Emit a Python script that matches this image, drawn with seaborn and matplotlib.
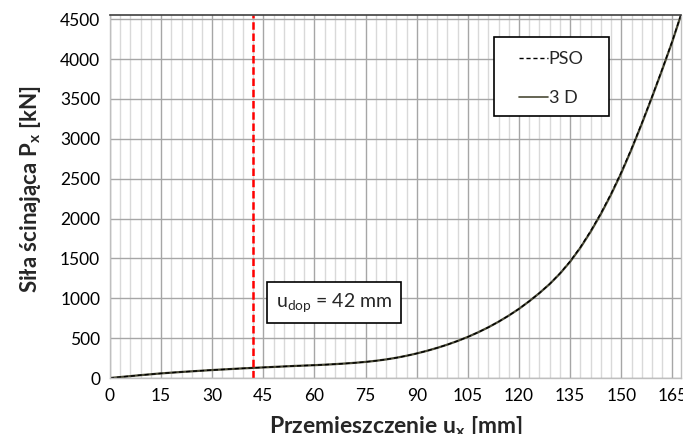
import numpy as np
import pandas as pd
import matplotlib
matplotlib.use("Agg")
import matplotlib.pyplot as plt
from matplotlib.lines import Line2D
from matplotlib.patches import Rectangle
import seaborn as sns

# Displacement [mm]
displacement = [0, 3, 6, 9, 12, 15, 18, 21, 24, 27, 30, 33, 36, 39, 42, 45,
                48, 51, 54, 57, 60, 63, 66, 69, 72, 75, 78, 81, 84, 87, 90,
                93, 96, 99, 102, 105, 108, 111, 114, 117, 120, 123, 126, 129,
                132, 135, 138, 141, 144, 147, 150, 153, 156, 159, 162, 165,
                167.5]
# Shear force [kN] - 3D model
force_3d = [0, 12, 24, 36, 47, 58, 67, 76, 84, 92, 100, 107, 114, 121, 127,
            133, 139, 145, 151, 156, 161, 167, 174, 182, 191, 202, 216, 233,
            254, 279, 308, 341, 378, 419, 465, 516, 573, 636, 706, 783, 868,
            963, 1066, 1179, 1309, 1459, 1634, 1834, 2056, 2301, 2571, 2868,
            3186, 3520, 3866, 4224, 4550]
# Shear force [kN] - PSO model
force_pso = [0, 12, 24, 36, 47, 58, 67, 76, 84, 92, 100, 107, 114, 121, 127,
             133, 139, 145, 151, 156, 161, 167, 174, 182, 191, 202, 216, 233,
             254, 279, 308, 341, 378, 419, 465, 516, 573, 636, 706, 783, 868,
             963, 1066, 1180, 1312, 1464, 1641, 1843, 2066, 2312, 2582, 2878,
             3195, 3528, 3873, 4230, 4556]

u_dop = 42
x_ticks = list(range(0, 166, 15))
y_ticks = list(range(0, 4501, 500))

sns.set_style("white")
plt.rcParams["font.family"] = ["Lato", "DejaVu Sans"]
plt.rcParams["mathtext.fontset"] = "custom"
plt.rcParams["mathtext.rm"] = "Lato"
plt.rcParams["mathtext.it"] = "Lato:italic"
plt.rcParams["mathtext.bf"] = "Lato:bold"

df = pd.DataFrame({"u": displacement, "P3D": force_3d, "PPSO": force_pso})

fig = plt.figure(figsize=(6.83, 4.34), dpi=100)
ax = fig.add_axes([0.161, 0.129, 0.836, 0.836])

# grid: fine vertical lines every 3 mm, stronger every 15 mm
ax.set_xticks(np.arange(0, 168, 3), minor=True)
ax.grid(which="minor", axis="x", color="#d9d9d9", linewidth=1.0)
ax.grid(which="major", axis="x", color="#a6a6a6", linewidth=1.0)
ax.grid(which="major", axis="y", color="#a6a6a6", linewidth=1.0)
ax.set_axisbelow(True)

sns.lineplot(data=df, x="u", y="P3D", ax=ax, color="#4a4a36", linewidth=1.6)
sns.lineplot(data=df, x="u", y="PPSO", ax=ax, color="black", linewidth=1.0,
             linestyle=(0, (3, 2)))

ax.axvline(u_dop, color="#ff0000", linewidth=1.8, linestyle=(0, (3, 1.5)))

ax.set_xlim(0, 167.5)
ax.set_ylim(0, 4550)
ax.set_xticks(x_ticks)
ax.set_yticks(y_ticks)
ax.tick_params(axis="both", which="both", length=0, labelsize=12.5,
               labelcolor="black", pad=7)

for side in ["left", "bottom", "right"]:
    ax.spines[side].set_color("#bfbfbf")
    ax.spines[side].set_linewidth(1.0)
ax.spines["top"].set_color("#404040")
ax.spines["top"].set_linewidth(1.2)

ax.set_xlabel(r"Przemieszczenie u$_\mathbf{x}$ [mm]", fontsize=16.5,
              fontweight="bold")
ax.xaxis.set_label_coords(0.5, -0.10)
ax.xaxis.label.set_va("top")
ax.set_ylabel(r"Siła ścinająca P$_\mathbf{x}$ [kN]", fontsize=16,
              fontweight="bold")
ax.yaxis.set_label_coords(-0.118, 0.52)

ax.text(48.6, 945, r"u$_{\mathrm{dop}}$ = 42 mm", fontsize=14,
        va="center", ha="left",
        bbox=dict(boxstyle="square,pad=0.45", facecolor="white",
                  edgecolor="black", linewidth=1.2))

# legend frame drawn as a plain box, entries placed inside it
ax.add_patch(Rectangle((0.672, 0.722), 0.202, 0.217, transform=ax.transAxes,
                       facecolor="white", edgecolor="black", linewidth=1.2,
                       zorder=4))
handles = [Line2D([], [], color="black", linewidth=1.0, linestyle=(0, (3, 2))),
           Line2D([], [], color="#4a4a36", linewidth=1.2)]
leg = ax.legend(handles, ["PSO", "3 D"], loc="upper left",
                bbox_to_anchor=(0.716, 0.901), frameon=False,
                fontsize=13, handlelength=1.6, handletextpad=0.05,
                labelspacing=1.28, borderpad=0, borderaxespad=0)
leg.set_zorder(5)

fig.savefig("out.png", dpi=100)
